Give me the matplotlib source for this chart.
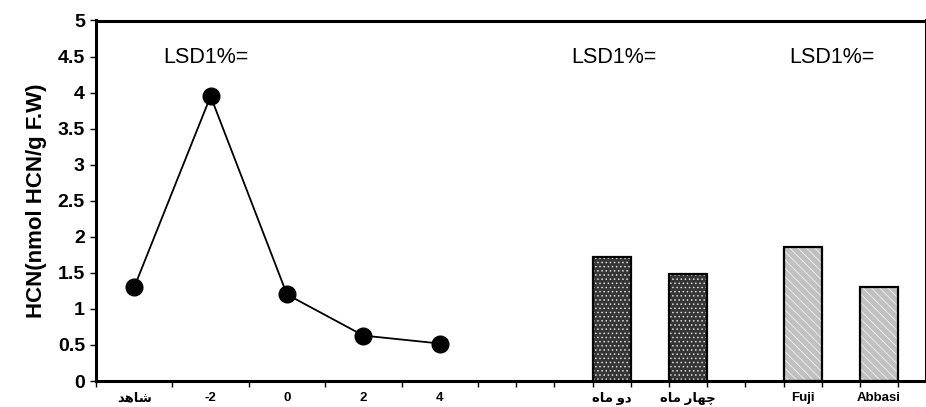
import numpy as np
import matplotlib.pyplot as plt

# line series (temperature treatments)
line_labels = ['شاهد', '-2', '0', '2', '4']
line_x = [1, 3, 5, 7, 9]
line_vals = [1.30, 3.95, 1.20, 0.63, 0.52]

# storage time bars
store_labels = ['دو ماه', 'چهار ماه']
store_x = [13.5, 15.5]
store_vals = [1.72, 1.48]

# cultivar bars
cult_labels = ['Fuji', 'Abbasi']
cult_x = [18.5, 20.5]
cult_vals = [1.865, 1.31]

lsd_x = [1.75, 12.45, 18.15]
lsd_text = 'LSD1%='

# matplotlib has no arabic shaping/bidi, so give the shaped glyphs in visual order
shaped = {
    'شاهد': '\ufeaa\ufeeb\ufe8e\ufeb7',
    'دو ماه': '\ufee9\ufe8e\ufee3 \ufeed\ufea9',
    'چهار ماه': '\ufee9\ufe8e\ufee3 \ufead\ufe8e\ufeec\ufb7c',
}

fams = ['Liberation Sans', 'DejaVu Sans']
plt.rcParams['font.family'] = fams
plt.rcParams['hatch.linewidth'] = 0.6

fig = plt.figure(figsize=(9.26, 4.07), dpi=100)
ax = fig.add_axes([96 / 926, 1 - 381 / 407, 1 - 96 / 926, (381 - 20.5) / 407])

ax.plot(line_x, line_vals, color='black', lw=1.3, marker='o', ms=12,
        mfc='black', mec='black', zorder=3)

# dotted dark bars: light dots on dark grey, black outline drawn on top
ax.bar(store_x, store_vals, width=1.0, color='#353535', edgecolor='#dcdcdc',
       hatch='....', lw=0, zorder=2)
ax.bar(store_x, store_vals, width=1.0, fill=False, edgecolor='black', lw=1.6, zorder=2)

# striped light bars
ax.bar(cult_x, cult_vals, width=1.0, color='#c0c0c0', edgecolor='#f0f0f0',
       hatch='\\\\\\\\', lw=0, zorder=2)
ax.bar(cult_x, cult_vals, width=1.0, fill=False, edgecolor='black', lw=1.6, zorder=2)

for x in lsd_x:
    ax.text(x, 4.49, lsd_text, fontsize=15.5, va='center', ha='left')

ax.set_xlim(0, (926 - 96) / 38.2)
ax.set_ylim(0, 5)
ax.set_yticks(np.arange(0, 5.01, 0.5))
ax.set_yticklabels(['0', '0.5', '1', '1.5', '2', '2.5', '3', '3.5', '4', '4.5', '5'],
                   fontsize=14, fontweight='bold')

cat_x = line_x + store_x + cult_x
cat_labels = [shaped.get(s, s) for s in line_labels + store_labels + cult_labels]
ax.set_xticks(cat_x)
ax.set_xticklabels(cat_labels, fontsize=9.5, fontweight='bold')
ax.set_xticks(np.arange(0, 22), minor=True)
ax.tick_params(axis='x', which='major', length=0, pad=8)
ax.tick_params(axis='x', which='minor', length=4, width=1, direction='out')
ax.tick_params(axis='y', length=4, width=1, direction='out', pad=4)

ax.set_ylabel('HCN(nmol HCN/g F.W)', fontsize=16, fontweight='bold', labelpad=8)

for s in ax.spines.values():
    s.set_linewidth(2.2)

fig.savefig('out.png', dpi=100)
